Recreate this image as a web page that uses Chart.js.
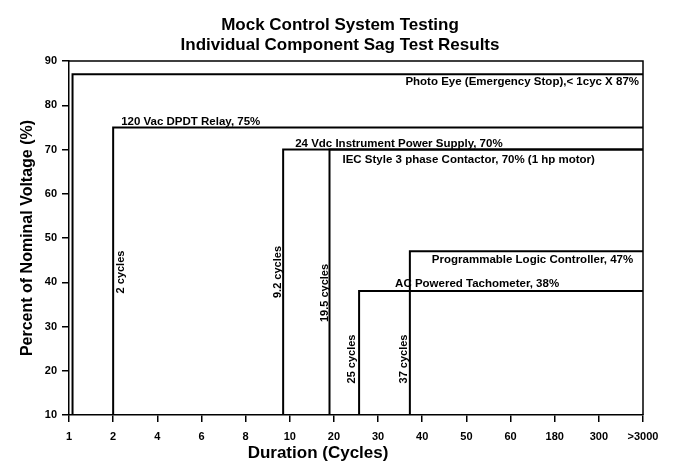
<!DOCTYPE html>
<html>
<head>
<meta charset="utf-8">
<script src="https://cdn.jsdelivr.net/npm/chart.js@4/dist/chart.umd.min.js"></script>
<style>
  html, body { margin: 0; padding: 0; background: #fff; }
  #wrap { width: 680px; height: 468px; }
</style>
</head>
<body>
<div id="wrap"><canvas id="chart"></canvas></div>
<script>
// Axis ticks (the duration axis is spaced evenly per label, not to scale)
const tickLabels = ['1', '2', '4', '6', '8', '10', '20', '30', '40', '50', '60', '180', '300', '>3000'];
const tickCycles = [1, 2, 4, 6, 8, 10, 20, 30, 40, 50, 60, 180, 300, 3000];
const yTicks = [10, 20, 30, 40, 50, 60, 70, 80, 90];

// Components, in drawing order
const components = [
  'Photo Eye (Emergency Stop),< 1cyc X 87%',
  '120 Vac DPDT Relay, 75%',
  '24 Vdc Instrument Power Supply, 70%',
  'IEC Style 3 phase Contactor, 70% (1 hp motor)',
  'AC Powered Tachometer, 38%',
  'Programmable Logic Controller, 47%'
];
// ride-through duration where each curve steps up (cycles, as placed on the axis)
const startCycles = [1.08, 2, 9.7, 19, 25.7, 37.2];
// sag level (% of nominal)
const sagLevels = [87, 75, 70, 70, 38, 47];
const cycleNotes = ['', '2 cycles', '9.2 cycles', '19.5 cycles', '25 cycles', '37 cycles'];

const FONT = "'Liberation Sans', Arial, sans-serif";
const END = tickLabels.length - 1;

// cycles -> position on the evenly spaced category axis
function axisPos(c) {
  for (let i = 0; i < tickCycles.length - 1; i++) {
    if (c <= tickCycles[i + 1]) {
      return i + (c - tickCycles[i]) / (tickCycles[i + 1] - tickCycles[i]);
    }
  }
  return END;
}

const datasets = components.map((name, i) => {
  const p = axisPos(startCycles[i]);
  return {
    label: name,
    data: [
      { x: p, y: yTicks[0] },
      { x: p, y: sagLevels[i] },
      { x: END, y: sagLevels[i] }
    ],
    borderColor: '#000',
    borderWidth: 2,
    pointRadius: 0,
    tension: 0,
    fill: false
  };
});

// label placement for each component (px offsets from the curve corner)
const noteLayout = [
  { align: 'right', dx: -4, dy: 8, fromRight: true },
  { align: 'left', dx: 8, dy: -6 },
  { align: 'left', dx: 12, dy: -6 },
  { align: 'left', dx: 13, dy: 10 },
  { align: 'left', dx: 36, dy: -7 },
  { align: 'left', dx: 22, dy: 9 }
];
const cycleLayout = [null, { dx: 8, up: 143 }, { dx: -5, up: 143 }, { dx: -5, up: 122 }, { dx: -7, up: 56 }, { dx: -6, up: 56 }];

const decorPlugin = {
  id: 'decor',
  afterDraw(chart) {
    const { ctx, chartArea: a, scales: { x, y } } = chart;
    ctx.save();

    // box frame top + right
    ctx.strokeStyle = '#000';
    ctx.lineWidth = 1.5;
    ctx.beginPath();
    ctx.moveTo(a.left, a.top);
    ctx.lineTo(a.right, a.top);
    ctx.lineTo(a.right, a.bottom);
    ctx.stroke();

    ctx.fillStyle = '#000';
    ctx.textBaseline = 'middle';

    // title
    ctx.textAlign = 'center';
    ctx.font = 'bold 17px ' + FONT;
    ctx.fillText('Mock Control System Testing', 340, 25);
    ctx.fillText('Individual Component Sag Test Results', 340, 45);

    // axis titles
    ctx.fillText('Duration (Cycles)', 318, 453);
    ctx.font = 'bold 16px ' + FONT;
    ctx.save();
    ctx.translate(28, 238);
    ctx.rotate(-Math.PI / 2);
    ctx.fillText('Percent of Nominal Voltage (%)', 0, 0);
    ctx.restore();

    // component notes
    ctx.font = 'bold 11.5px ' + FONT;
    components.forEach((name, i) => {
      const L = noteLayout[i];
      const px = L.fromRight ? a.right : x.getPixelForValue(axisPos(startCycles[i]));
      const py = y.getPixelForValue(sagLevels[i]);
      ctx.textAlign = L.align;
      ctx.fillText(name, px + L.dx, py + L.dy);
    });

    // duration notes, rotated
    ctx.font = 'bold 11px ' + FONT;
    ctx.textAlign = 'center';
    cycleNotes.forEach((txt, i) => {
      if (!txt) return;
      const L = cycleLayout[i];
      const px = x.getPixelForValue(axisPos(startCycles[i])) + L.dx;
      const py = a.bottom - L.up;
      ctx.save();
      ctx.translate(px, py);
      ctx.rotate(-Math.PI / 2);
      ctx.fillText(txt, 0, 0);
      ctx.restore();
    });

    ctx.restore();
  }
};

new Chart(document.getElementById('chart'), {
  type: 'line',
  data: { datasets },
  options: {
    responsive: true,
    maintainAspectRatio: false,
    animation: false,
    layout: { padding: { left: 0, right: 37, top: 61, bottom: 0 } },
    plugins: {
      legend: { display: false },
      title: { display: false },
      tooltip: { enabled: false }
    },
    scales: {
      x: {
        type: 'linear',
        min: 0,
        max: END,
        afterFit: s => { s.height = 53; },
        afterBuildTicks: s => { s.ticks = tickLabels.map((_, i) => ({ value: i })); },
        ticks: {
          autoSkip: false,
          maxRotation: 0,
          padding: 8,
          color: '#000',
          font: { family: FONT, size: 11, weight: 'bold' },
          callback: v => tickLabels[v]
        },
        grid: { drawOnChartArea: false, drawTicks: true, tickLength: 7, color: '#000', lineWidth: 1.5 },
        border: { display: true, color: '#000', width: 1.5 }
      },
      y: {
        type: 'linear',
        min: yTicks[0],
        max: yTicks[yTicks.length - 1],
        afterFit: s => { s.width = 69; },
        afterBuildTicks: s => { s.ticks = yTicks.map(v => ({ value: v })); },
        ticks: {
          padding: 5,
          color: '#000',
          font: { family: FONT, size: 11, weight: 'bold' }
        },
        grid: { drawOnChartArea: false, drawTicks: true, tickLength: 7, color: '#000', lineWidth: 1.5 },
        border: { display: true, color: '#000', width: 1.5 }
      }
    }
  },
  plugins: [decorPlugin]
});
</script>
</body>
</html>
